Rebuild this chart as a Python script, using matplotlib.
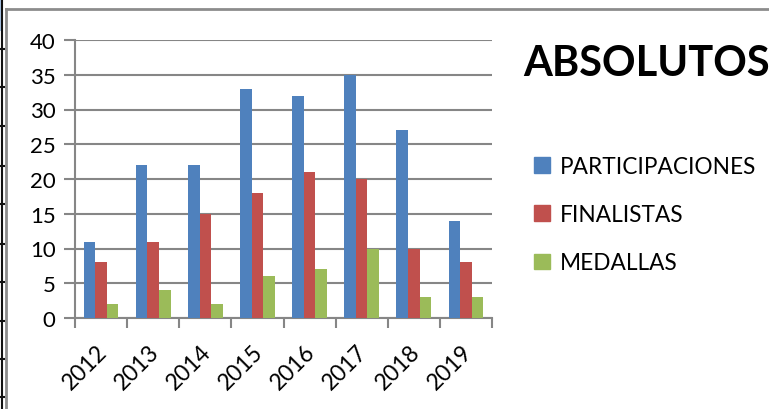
import matplotlib
matplotlib.use("Agg")
import matplotlib.pyplot as plt
import matplotlib.transforms as mtransforms
from matplotlib.lines import Line2D
from matplotlib.patches import Rectangle
import numpy as np

years = ["2012", "2013", "2014", "2015", "2016", "2017", "2018", "2019"]
participaciones = [11, 22, 22, 33, 32, 35, 27, 14]
finalistas = [8, 11, 15, 18, 21, 20, 10, 8]
medallas = [2, 4, 2, 6, 7, 10, 3, 3]
series_names = ["PARTICIPACIONES", "FINALISTAS", "MEDALLAS"]
colors = ["#4F81BD", "#C0504D", "#9BBB59"]

plt.rcParams['font.family'] = ['Lato', 'DejaVu Sans']

W, H = 769, 410
fig = plt.figure(figsize=(W / 100, H / 100), dpi=100)

# outer frame (gray) and the dark ruler line at the far left
fig.add_artist(Line2D([6 / W, 1], [1 - 10 / H, 1 - 10 / H], color="#8c8c8c", lw=2))
fig.add_artist(Line2D([6 / W, 6 / W], [0, 1 - 10 / H], color="#8c8c8c", lw=2))
fig.add_artist(Rectangle((0, 1 - 32 / H), 3 / W, 32 / H, color="#a9c4e6", lw=0))
fig.add_artist(Line2D([2 / W, 2 / W], [0, 1], color="#111111", lw=1.5))
for yy in [50, 88, 127, 167, 205, 245, 283, 322, 360, 398]:
    fig.add_artist(Line2D([0, 4 / W], [1 - yy / H, 1 - yy / H], color="#111111", lw=1.5))

ax = fig.add_axes([75 / W, (H - 319) / H, (492 - 75) / W, (319 - 41) / H])

x = np.arange(len(years))
w = 0.222
data = [participaciones, finalistas, medallas]
for i, (vals, name, c) in enumerate(zip(data, series_names, colors)):
    ax.bar(x + (i - 1) * w, vals, width=w, color=c, label=name, zorder=3)

ax.set_xlim(-0.5, len(years) - 0.5)
ax.set_ylim(0, 40)
ax.set_yticks(range(0, 41, 5))
ax.yaxis.grid(True, color="#868686", lw=1.5, zorder=0)
ax.tick_params(axis="y", length=8, width=1.5, color="#868686", labelsize=16, pad=6)

ax.set_xticks(x)
ax.set_xticklabels(years, rotation=45, ha="right", rotation_mode="anchor", fontsize=16.5)
ax.set_xticks(np.arange(-0.5, len(years)), minor=True)
ax.tick_params(axis="x", which="major", length=0, pad=16)
ax.tick_params(axis="x", which="minor", length=7, width=1.5, color="#868686")
shift = mtransforms.ScaledTranslation(-5 / 100, 0, fig.dpi_scale_trans)
for lab in ax.get_xticklabels():
    lab.set_transform(lab.get_transform() + shift)

for s in ["top", "right"]:
    ax.spines[s].set_visible(False)
for s in ["left", "bottom"]:
    ax.spines[s].set_color("#868686")
    ax.spines[s].set_linewidth(1.5)

fig.text(647 / W, 1 - 64 / H, "ABSOLUTOS", fontsize=30, fontweight="bold",
         ha="center", va="center")

handles = [Rectangle((0, 0), 1, 1, color=c) for c in colors]
fig.legend(handles, series_names, loc="upper left", bbox_to_anchor=(525 / W, 1 - 148 / H),
           frameon=False, fontsize=16.3, handlelength=0.7, handleheight=0.7,
           handletextpad=0.45, labelspacing=1.2, borderaxespad=0)

fig.savefig("out.png", dpi=100)
